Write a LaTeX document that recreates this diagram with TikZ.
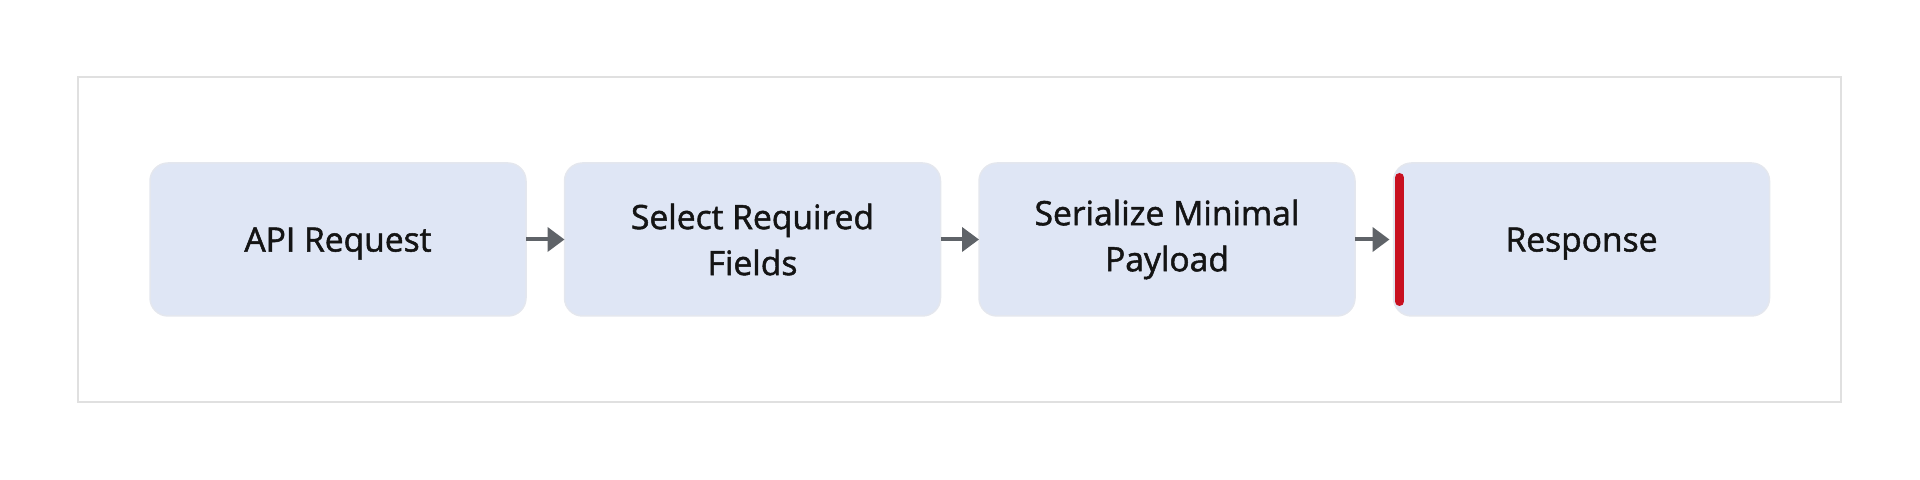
\documentclass[tikz,border=0pt]{standalone}
\usepackage{fontspec}
\setmainfont{Open Sans}[FakeBold=1.5]
\usetikzlibrary{positioning,arrows.meta}

\definecolor{boxfill}{RGB}{223,230,245}
\definecolor{boxline}{RGB}{228,231,238}
\definecolor{framegray}{RGB}{224,224,224}
\definecolor{arrowgray}{RGB}{95,99,104}
\definecolor{barred}{RGB}{200,16,32}
\definecolor{textdark}{RGB}{20,20,20}

\begin{document}
\begin{tikzpicture}[
        x=0.5pt, y=0.5pt,
        node distance=19.25pt,
        stage/.style={fill=boxfill, draw=boxline, line width=0.75pt, rounded corners=9pt,
            minimum width=188pt, minimum height=76.5pt, inner sep=0pt, outer sep=0pt, align=center,
            text=textdark, font=\fontsize{16.8}{23}\selectfont},
        flow/.style={draw=arrowgray, line width=2pt, -{Triangle[length=8.5pt,width=12pt]}}
    ]
        \useasboundingbox (0,0) rectangle (1920,480);

        % outer frame
        \draw[framegray, line width=1pt] (77.5,78.3) rectangle (1840.5,402.5);

        % pipeline stages
        \node[stage, text depth=0pt] (request) at (338,240.5) {API Request};
        \node[stage, right=of request] (select) {Select Required\\Fields};
        \node[stage, right=of select] (serialize) {Serialize Minimal\\Payload};
        \node[stage, text depth=0pt, right=of serialize] (response) {Response};

        % red marker on the response
        \draw[barred, line width=4.5pt, line cap=round]
            ([xshift=3pt,yshift=-7.25pt]response.north west) -- ([xshift=3pt,yshift=7.25pt]response.south west);

        % arrows between stages
        \draw[flow] (request) -- (select);
        \draw[flow] (select) -- (serialize);
        \draw[flow, shorten >=2pt] (serialize) -- (response);
    \end{tikzpicture}
\end{document}
